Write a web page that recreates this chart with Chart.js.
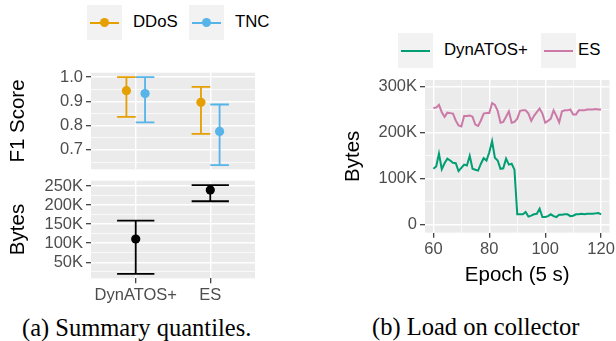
<!DOCTYPE html>
<html><head><meta charset="utf-8">
<script src="https://cdn.jsdelivr.net/npm/chart.js@4"></script>
<style>
html,body{margin:0;padding:0;background:#fff;}
#fig{position:relative;width:616px;height:341px;overflow:hidden;font-family:'Liberation Sans',Arial,sans-serif;}
canvas{position:absolute;}
.key{position:absolute;width:35px;height:35px;background:#F2F2F2;}
.key .ln{position:absolute;left:3px;right:3px;top:16.5px;height:2px;}
.key .dt{position:absolute;width:9px;height:9px;border-radius:50%;left:13px;top:13px;}
.lt{position:absolute;font-size:16.8px;line-height:1;color:#000;white-space:nowrap;}
.cap{position:absolute;font-family:'Liberation Serif','Times New Roman',serif;font-size:24.5px;line-height:1;white-space:nowrap;color:#000;}
</style></head>
<body>
<div id="fig">
  <div class="key" style="left:87px;top:5px;"><div class="ln" style="background:#E69F00"></div><div class="dt" style="background:#E69F00"></div></div>
  <div class="lt" style="left:133px;top:14px;">DDoS</div>
  <div class="key" style="left:189px;top:5px;"><div class="ln" style="background:#56B4E9"></div><div class="dt" style="background:#56B4E9"></div></div>
  <div class="lt" style="left:235px;top:14px;">TNC</div>

  <div class="key" style="left:398px;top:33px;"><div class="ln" style="background:#009E73"></div></div>
  <div class="lt" style="left:444px;top:42px;">DynATOS+</div>
  <div class="key" style="left:541px;top:33px;"><div class="ln" style="background:#CC79A7"></div></div>
  <div class="lt" style="left:578px;top:42px;">ES</div>

  <canvas id="c1" width="280" height="115" style="left:0;top:60px;width:280px;height:115px;"></canvas>
  <canvas id="c2" width="280" height="135" style="left:0;top:175px;width:280px;height:135px;"></canvas>
  <canvas id="c3" width="286" height="220" style="left:330px;top:70px;width:286px;height:220px;"></canvas>

  <div class="cap" style="left:22px;top:315.5px;">(a) Summary quantiles.</div>
  <div class="cap" style="left:372px;top:314.5px;">(b) Load on collector</div>
</div>
<script>
// ---------- data ----------
const CATEGORIES = ['DynATOS+', 'ES'];
const F1_SERIES = ['DDoS', 'TNC'];
const F1_DDOS_MED = [0.944, 0.896];
const F1_DDOS_LO  = [0.836, 0.766];
const F1_DDOS_HI  = [1.000, 0.960];
const F1_TNC_MED  = [0.932, 0.776];
const F1_TNC_LO   = [0.813, 0.637];
const F1_TNC_HI   = [1.000, 0.887];
const BYTES_MED = [111000, 239500];
const BYTES_LO  = [19400, 210000];
const BYTES_HI  = [159400, 252000];

const F1_TICKS_MAJOR = [0.7, 0.8, 0.9, 1.0];
const F1_TICKS_MINOR = [0.65, 0.75, 0.85, 0.95];
const BYTES_TICKS_MAJOR = [50000, 100000, 150000, 200000, 250000];
const BYTES_TICKS_MINOR = [25000, 75000, 125000, 175000, 225000];

const EPOCHS = [60,61,62,63,64,65,66,67,68,69,70,71,72,73,74,75,76,77,78,79,80,
  81,82,83,84,85,86,87,88,89,90,91,92,93,94,95,96,97,98,99,100,
  101,102,103,104,105,106,107,108,109,110,111,112,113,114,115,116,117,118,119,120];
const LOAD_DYNATOS = [122000,127000,155000,121000,134000,144000,140000,135000,134000,117000,124000,
  131000,129000,150000,122000,120000,118000,133000,145000,140000,158000,
  182000,146000,140000,122000,123000,144000,131000,133000,120000,23000,
  23000,23000,28000,18000,20000,23000,24000,35000,17000,17000,
  19000,23000,19000,17000,22000,22000,23000,23000,19000,20000,
  23000,23000,24000,23000,24000,24000,24000,25000,26000,23000];
const LOAD_ES = [254000,255000,261000,245000,235000,244000,243000,242000,227000,216000,214000,
  237000,237000,238000,235000,218000,215000,227000,242000,243000,243000,
  265000,261000,248000,222000,224000,235000,247000,222000,224000,231000,
  248000,249000,249000,242000,226000,237000,245000,253000,242000,222000,
  226000,231000,249000,237000,223000,247000,249000,249000,251000,240000,
  240000,249000,249000,249000,251000,251000,251000,252000,251000,251000];
const LOAD_X_TICKS_MAJOR = [60, 80, 100, 120];
const LOAD_X_TICKS_MINOR = [70, 90, 110];
const LOAD_Y_TICKS_MAJOR = [0, 100000, 200000, 300000];
const LOAD_Y_TICKS_MINOR = [50000, 150000, 250000];

// ---------- styling ----------
const COLORS = {DDoS:'#E69F00', TNC:'#56B4E9', 'DynATOS+':'#009E73', ES:'#CC79A7', bytes:'#000000'};
const SANS = "'Liberation Sans', Arial, sans-serif";
const TICK_FONT = {family: SANS, size: 16.5};
const TITLE_FONT = {family: SANS, size: 20.5};
const TICK_COLOR = '#4D4D4D';
const DODGE = 0.125;

const panelBg = {
  id: 'panelBg',
  beforeDraw(chart) {
    const {ctx, chartArea: a} = chart;
    ctx.save(); ctx.fillStyle = '#EBEBEB';
    ctx.fillRect(a.left, a.top, a.right - a.left, a.bottom - a.top);
    ctx.restore();
  }
};
const errorBars = {
  id: 'errorBars',
  beforeDatasetsDraw(chart) {
    const {ctx, scales: {x, y}} = chart;
    chart.data.datasets.forEach(ds => {
      if (!ds.errorBar) return;
      ctx.save();
      ctx.strokeStyle = ds.borderColor;
      ctx.lineWidth = ds.errorBar.lineWidth;
      ds.data.forEach(d => {
        const px = x.getPixelForValue(d.x);
        const hw = x.getPixelForValue(d.x + ds.errorBar.capWidth / 2) - px;
        const lo = y.getPixelForValue(d.lo), hi = y.getPixelForValue(d.hi);
        ctx.beginPath();
        ctx.moveTo(px, lo); ctx.lineTo(px, hi);
        ctx.moveTo(px - hw, lo); ctx.lineTo(px + hw, lo);
        ctx.moveTo(px - hw, hi); ctx.lineTo(px + hw, hi);
        ctx.stroke();
      });
      ctx.restore();
    });
  }
};

function makeAxis(o) {
  const all = o.major.concat(o.minor || []).sort((a, b) => a - b);
  const isMajor = v => o.major.includes(v);
  return {
    type: 'linear', position: o.position, min: o.min, max: o.max,
    afterBuildTicks: s => { s.ticks = all.map(v => ({value: v})); },
    afterFit: s => {
      if (o.position === 'left') { s.width = o.size; s.paddingTop = 0; s.paddingBottom = 0; }
      else { s.height = o.size; s.paddingLeft = 0; s.paddingRight = 0; }
    },
    ticks: {
      display: o.labels !== false, autoSkip: false, maxRotation: 0, padding: o.pad,
      color: TICK_COLOR, font: TICK_FONT,
      callback: v => isMajor(v) ? o.fmt(v) : ''
    },
    grid: {
      color: '#FFFFFF',
      lineWidth: c => isMajor(c.tick.value) ? 1.4 : 0.7,
      drawTicks: o.drawTicks !== false, tickLength: 5, tickWidth: 1.2,
      tickColor: c => isMajor(c.tick.value) ? '#333333' : 'rgba(0,0,0,0)'
    },
    border: {display: false},
    title: o.title ? {display: true, text: o.title, color: '#000', font: TITLE_FONT, padding: 2} : {display: false}
  };
}
const kFmt = v => v === 0 ? '0' : (v / 1000) + 'K';
const base = {responsive: false, animation: false, events: [], plugins: {legend: {display: false}, tooltip: {enabled: false}}};

// ---------- F1 panel ----------
function f1Set(name, med, lo, hi, off) {
  return {
    type: 'scatter', label: name,
    data: CATEGORIES.map((c, i) => ({x: i + 1 + off, y: med[i], lo: lo[i], hi: hi[i]})),
    borderColor: COLORS[name], backgroundColor: COLORS[name],
    pointRadius: 4.6, pointBorderWidth: 0,
    errorBar: {capWidth: 0.25, lineWidth: 1.8}
  };
}
new Chart(document.getElementById('c1'), {
  type: 'scatter',
  data: {datasets: [
    f1Set(F1_SERIES[0], F1_DDOS_MED, F1_DDOS_LO, F1_DDOS_HI, -DODGE),
    f1Set(F1_SERIES[1], F1_TNC_MED, F1_TNC_LO, F1_TNC_HI, DODGE)
  ]},
  options: Object.assign({}, base, {
    layout: {padding: {left: 4, top: 12.7, right: 25, bottom: 5.7}},
    scales: {
      x: makeAxis({position: 'bottom', min: 0.4, max: 2.6, major: [1, 2], labels: false, drawTicks: false, size: 0, pad: 0, fmt: v => CATEGORIES[v - 1]}),
      y: makeAxis({position: 'left', min: 0.62, max: 1.018, major: F1_TICKS_MAJOR, minor: F1_TICKS_MINOR, size: 87, pad: 3, fmt: v => v.toFixed(1), title: 'F1 Score'})
    }
  }),
  plugins: [panelBg, errorBars]
});

// ---------- Bytes panel ----------
new Chart(document.getElementById('c2'), {
  type: 'scatter',
  data: {datasets: [{
    type: 'scatter', label: 'Bytes',
    data: CATEGORIES.map((c, i) => ({x: i + 1, y: BYTES_MED[i], lo: BYTES_LO[i], hi: BYTES_HI[i]})),
    borderColor: COLORS.bytes, backgroundColor: COLORS.bytes,
    pointRadius: 4.6, pointBorderWidth: 0,
    errorBar: {capWidth: 0.5, lineWidth: 1.8}
  }]},
  options: Object.assign({}, base, {
    layout: {padding: {left: 4, top: 5.7, right: 25, bottom: 0}},
    scales: {
      x: makeAxis({position: 'bottom', min: 0.4, max: 2.6, major: [1, 2], size: 31.7, pad: 2, fmt: v => CATEGORIES[v - 1]}),
      y: makeAxis({position: 'left', min: 8000, max: 263800, major: BYTES_TICKS_MAJOR, minor: BYTES_TICKS_MINOR, size: 87, pad: 3, fmt: kFmt, title: 'Bytes'})
    }
  }),
  plugins: [panelBg, errorBars]
});

// ---------- Load on collector ----------
function lineSet(name, vals) {
  return {
    label: name, data: EPOCHS.map((e, i) => ({x: e, y: vals[i]})),
    borderColor: COLORS[name], backgroundColor: COLORS[name],
    borderWidth: 2, pointRadius: 0, tension: 0, fill: false
  };
}
new Chart(document.getElementById('c3'), {
  type: 'line',
  data: {datasets: [lineSet('DynATOS+', LOAD_DYNATOS), lineSet('ES', LOAD_ES)]},
  options: Object.assign({}, base, {
    layout: {padding: {left: 8.7, top: 10, right: 6.5, bottom: 0}},
    scales: {
      x: makeAxis({position: 'bottom', min: 57, max: 123, major: LOAD_X_TICKS_MAJOR, minor: LOAD_X_TICKS_MINOR, size: 57.3, pad: 2, fmt: v => String(v), title: 'Epoch (5 s)'}),
      y: makeAxis({position: 'left', min: -17000, max: 315000, major: LOAD_Y_TICKS_MAJOR, minor: LOAD_Y_TICKS_MINOR, size: 86.3, pad: 3, fmt: kFmt, title: 'Bytes'})
    }
  }),
  plugins: [panelBg]
});
</script>
</body></html>
